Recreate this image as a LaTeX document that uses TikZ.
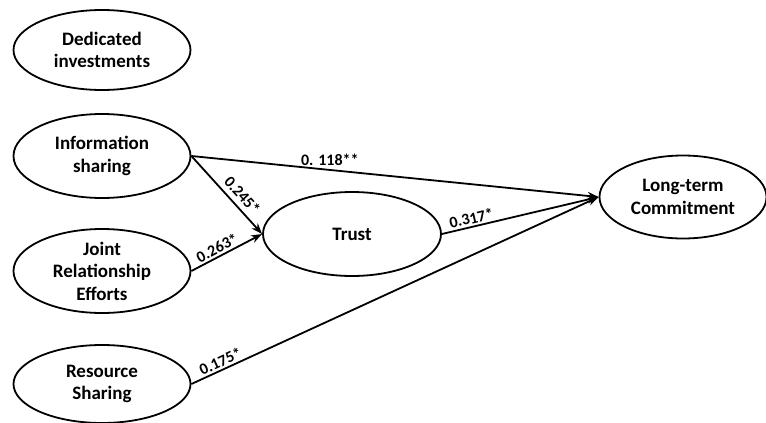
\documentclass[tikz,border=0pt]{standalone}
\usepackage{fontspec}
\setmainfont{Carlito}
\usetikzlibrary{arrows.meta,shapes.geometric}
\begin{document}
\begin{tikzpicture}[x=1pt,y=-1pt,
  var/.style={draw,line width=1.8pt,ellipse,minimum width=#1,align=center,font=\bfseries\fontsize{19}{22.5}\selectfont,inner sep=0pt},
  link/.style={line width=1.8pt,-{Stealth[length=11pt,width=8pt]}},
  coef/.style={font=\bfseries\fontsize{16}{18}\selectfont,inner sep=1pt}]
\useasboundingbox (0,0) rectangle (766,423);
\node[var=177pt,minimum height=80pt] (ded) at (102,50) {Dedicated\\investments};
\node[var=177pt,minimum height=84pt] (info) at (102,156) {Information\\sharing};
\node[var=177pt,minimum height=84pt] (joint) at (102,271) {Joint\\Relationship\\Efforts};
\node[var=177pt,minimum height=78pt] (res) at (102,384) {Resource\\Sharing};
\node[var=178pt,minimum height=84pt] (trust) at (352,234) {Trust};
\node[var=167pt,minimum height=83pt] (ltc) at (683,197) {Long-term\\Commitment};
\draw[link] (info.east) -- node[coef,above=2pt,pos=0.34] {0. 118**} (ltc.west);
\draw[link] (info.east) -- node[coef,sloped,above=4pt,pos=0.6] {0.245*} (trust.west);
\draw[link] (joint.east) -- node[coef,sloped,above=1pt,pos=0.42] {0.263*} (trust.west);
\draw[link] (trust.east) -- node[coef,sloped,above=1pt,pos=0.2] {0.317*} (ltc.west);
\draw[link] (res.east) -- node[coef,sloped,above=1pt,pos=0.08] {0.175*} (ltc.west);
\end{tikzpicture}
\end{document}
